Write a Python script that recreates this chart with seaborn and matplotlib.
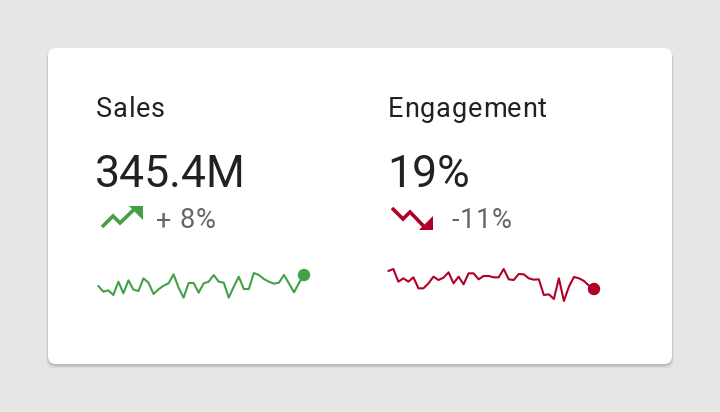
import numpy as np
import pandas as pd
import matplotlib
matplotlib.use("Agg")
import matplotlib.pyplot as plt
import seaborn as sns
from matplotlib.patches import FancyBboxPatch, Polygon

# ---------------------
# Dados
# ---------------------
kpi_names = ["Sales", "Engagement"]
kpi_values = ["345.4M", "19%"]
kpi_deltas = ["+ 8%", "-11%"]

sales_trend = [4.7, 3.0, 3.4, 2.0, 6.0, 2.5, 6.4, 3.6, 3.2, 7.0, 5.7, 2.3, 3.7, 4.8,
               5.5, 8.2, 4.2, 1.2, 5.6, 5.6, 2.7, 5.5, 6.0, 8.0, 6.0, 5.7, 1.2, 4.5,
               7.5, 3.8, 3.8, 8.6, 8.0, 6.8, 6.0, 5.4, 5.7, 8.0, 5.5, 2.8, 5.6, 8.0]
engagement_trend = [10.2, 10.8, 7.0, 8.0, 7.0, 8.3, 5.0, 5.0, 6.5, 8.5, 7.5, 8.2, 9.8, 6.5,
                    8.5, 6.2, 9.5, 9.5, 7.7, 8.7, 8.7, 8.3, 8.3, 10.8, 7.7, 7.5, 9.3, 9.2,
                    8.0, 7.6, 7.7, 3.0, 3.2, 1.8, 8.0, 1.2, 5.5, 8.4, 8.0, 7.2, 5.8, 4.8]

# ---------------------
# Estilo
# ---------------------
sns.set_theme(style="white")
plt.rcParams['font.family'] = ['Roboto', 'DejaVu Sans']

W, H = 720, 412
VERDE = "#43a047"
VERMELHO = "#b0002a"
TEXTO = "#212121"
CINZA = "#666666"

fig = plt.figure(figsize=(W / 100, H / 100), dpi=100)
fig.patch.set_facecolor("#e6e6e6")


def px_rect(x0, y0, x1, y1):
    """Converte um retângulo em pixels (origem no topo) para coordenadas da figura."""
    return [x0 / W, 1 - y1 / H, (x1 - x0) / W, (y1 - y0) / H]


def texto_espacado(ax, x, y, s, espaco, **kw):
    """Escreve o texto letra a letra com um espaçamento extra (em pixels)."""
    r = fig.canvas.get_renderer()
    for ch in s:
        t = ax.text(x, y, ch, va="baseline", ha="left", **kw)
        bb = t.get_window_extent(renderer=r)
        larg = bb.width if ch != " " else kw.get("fontsize", 12) * 100 / 72 * 0.25
        x += larg + espaco


# Eixo de fundo em pixels (cartão, textos, ícones)
bg = fig.add_axes([0, 0, 1, 1])
bg.set_xlim(0, W)
bg.set_ylim(H, 0)
bg.axis("off")

# sombra do cartão
for i, a in enumerate([0.025, 0.035, 0.05, 0.07]):
    off = 2.5 - i * 0.6
    bg.add_patch(FancyBboxPatch((48 - off + 0.5, 48 + 1 + (4 - i) * 0.3), 624 + 2 * off - 1, 316 + off,
                                boxstyle="round,pad=0,rounding_size=9",
                                fc="black", ec="none", alpha=a))
bg.add_patch(FancyBboxPatch((48, 48), 624, 316, boxstyle="round,pad=0,rounding_size=8",
                            fc="white", ec="none"))

# textos dos KPIs
for x0, nome, valor, delta, dx in [(96, kpi_names[0], kpi_values[0], kpi_deltas[0], 156),
                                    (388, kpi_names[1], kpi_values[1], kpi_deltas[1], 451)]:
    texto_espacado(bg, x0, 117, nome, 0.8, fontsize=19.5, color=TEXTO)
    bg.text(x0 - 1, 186.5, valor, fontsize=32, color=TEXTO, va="baseline", ha="left")
    texto_espacado(bg, dx, 228, delta, 0.8, fontsize=19.5, color=CINZA)

# ícone tendência de alta
bg.plot([102, 113, 120, 135], [227, 216, 223, 208.5], color=VERDE, lw=2.6,
        solid_joinstyle="miter", solid_capstyle="butt")
bg.add_patch(Polygon([[129, 206], [143, 206], [143, 220]], closed=True, fc=VERDE, ec="none"))

# ícone tendência de baixa
bg.plot([392, 403, 410, 424], [208, 219, 212, 226.5], color=VERMELHO, lw=2.6,
        solid_joinstyle="miter", solid_capstyle="butt")
bg.add_patch(Polygon([[433, 215.5], [433, 229.5], [419, 229.5]], closed=True, fc=VERMELHO, ec="none"))

# ---------------------
# Sparklines
# ---------------------
sparks = [
    (sales_trend, VERDE, px_rect(98.33, 268.33, 304, 301.67), 10),
    (engagement_trend, VERMELHO, px_rect(388.33, 265, 594, 305), 12),
]
for serie, cor, rect, ymax in sparks:
    ax = fig.add_axes(rect)
    df = pd.DataFrame({"t": np.arange(len(serie)), "v": serie})
    sns.lineplot(data=df, x="t", y="v", ax=ax, color=cor, linewidth=1.5)
    sns.scatterplot(data=df.tail(1), x="t", y="v", ax=ax, color=cor, s=80,
                    edgecolor="none", zorder=5, clip_on=False)
    ax.set_xlim(0, len(serie) - 1)
    ax.set_ylim(0, ymax)
    ax.axis("off")
    ax.patch.set_alpha(0)
    for ln in ax.lines:
        ln.set_clip_on(False)

fig.savefig("out.png", dpi=100)
